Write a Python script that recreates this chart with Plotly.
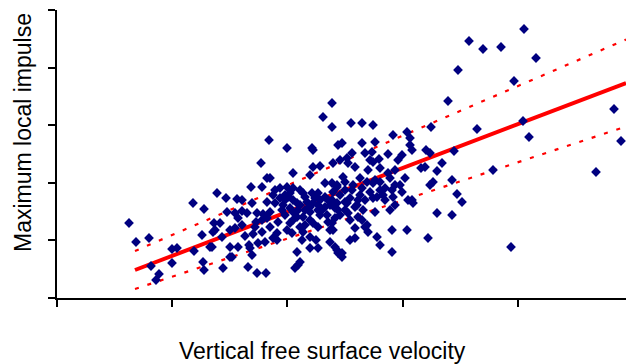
import plotly.graph_objects as go

# Data (arbitrary units)
vel = [0.72,0.79,0.92,0.94,0.99,1.02,1.15,1.20,1.15,1.36,1.47,1.37,1.47,1.53,
       2.04,2.10,1.94,2.05,1.60,1.69,1.80,1.85,2.10,1.95,1.70,1.78,1.85,1.90,2.00,2.06,
       1.81,1.99,1.63,1.57,1.58,1.85,1.78,1.73,2.05,1.96,1.88,1.65,1.45,1.92,2.01,2.08,
       1.81,1.73,1.55,1.73,1.66,1.91,2.09,2.00,1.75,1.93,1.46,1.95,1.56,
       2.56,2.56,2.63,2.36,2.13,2.68,2.75,2.80,2.23,2.30,2.36,2.43,2.46,2.55,2.61,2.68,
       2.16,2.23,2.31,2.36,2.40,2.50,2.56,2.18,2.26,2.33,2.61,2.68,2.73,2.78,2.13,2.36,
       2.40,2.53,2.63,2.70,2.05,2.10,2.36,2.33,2.46,2.53,2.78,2.30,2.35,2.43,2.46,2.56,
       2.61,2.73,2.16,2.53,2.59,2.45,2.73,2.53,2.61,2.81,2.40,2.38,2.41,1.98,2.13,2.20,
       2.85,2.43,3.08,3.11,
       2.94,3.05,3.16,3.36,3.50,3.53,3.53,3.55,2.75,2.85,3.05,3.18,2.95,3.15,3.13,3.08,
       3.22,3.31,3.45,2.91,2.98,2.76,2.86,2.88,3.31,3.33,2.96,2.95,3.03,3.10,3.16,3.23,
       3.43,3.45,3.35,3.36,2.80,2.76,3.16,3.20,3.55,3.28,2.75,2.80,2.88,2.98,2.81,3.06,
       3.18,3.33,2.88,2.91,3.01,3.05,3.10,2.98,2.75,2.76,3.35,3.50,2.98,2.93,3.20,2.78,
       2.80,3.23,3.35,2.85,
       2.75,2.66,2.12,2.30,2.55,2.81,2.53,2.90,2.83,3.16,
       3.74,4.20,4.66,4.72,3.69,3.73,3.97,3.85,3.64,3.68,3.80,4.36,3.95,3.76,3.73,4.00,
       4.05,3.56,3.80,3.95,3.71,4.54,4.67,4.12,4.26,4.44,4.79,4.01,4.57,3.91,5.57,5.64,
       5.39,3.51,
       2.28,2.43,2.48,2.58,2.65,2.71,2.83,2.88,2.93,3.03,3.08,3.13,3.23,3.26,3.38,2.83,
       2.93,2.28,2.21,2.25,3.01,3.05,3.11,3.23,3.38,3.41,3.48,3.38,3.28,
       2.18,2.33,2.48,2.63,2.53,2.41,2.28,2.61,2.71,2.48,2.20,2.90,3.00,3.18]

impulse = [1.50,1.12,1.20,0.64,0.36,0.48,0.98,1.00,0.70,1.90,1.78,0.94,0.56,1.02,
           2.70,2.40,2.22,2.22,2.10,2.00,1.98,1.96,1.92,1.90,1.72,1.70,1.74,1.70,1.70,1.68,
           1.60,1.52,1.50,1.50,1.36,1.46,1.40,1.36,1.32,1.28,1.24,1.22,1.26,1.06,1.10,1.12,
           1.02,1.02,1.02,0.82,0.60,0.62,0.50,0.50,0.82,1.00,0.72,0.86,1.32,
           2.96,2.62,2.64,2.50,2.40,2.30,2.30,2.22,2.20,2.22,2.20,2.16,2.10,2.10,2.10,2.02,
           2.06,2.00,2.02,1.96,1.90,1.92,1.90,1.90,1.86,1.80,1.86,1.82,1.86,1.80,1.72,1.72,
           1.62,1.72,1.66,1.66,1.56,1.60,1.56,1.50,1.62,1.56,1.60,1.36,1.30,1.42,1.32,1.50,
           1.42,1.36,1.20,1.22,1.16,1.16,1.12,1.00,1.00,0.90,0.92,0.60,0.66,1.42,1.42,1.16,
           0.90,0.72,1.42,1.32,
           3.50,3.50,3.46,3.26,3.32,3.20,3.06,2.96,3.42,3.10,3.10,3.12,2.90,2.92,2.76,2.90,
           2.78,2.88,2.86,2.70,2.62,2.70,2.42,2.32,2.50,2.40,2.26,2.16,2.40,2.32,2.30,2.32,
           2.26,2.12,2.16,2.02,2.26,2.12,2.00,2.02,1.96,1.96,1.96,1.90,1.92,1.82,1.76,1.76,
           1.72,1.76,1.76,1.70,1.62,1.56,1.46,1.40,1.50,1.36,1.36,1.36,1.20,1.16,1.22,1.02,
           0.96,1.06,0.92,0.82,
           3.90,3.62,3.16,3.00,3.00,3.06,2.46,2.80,2.76,2.72,
           3.42,3.38,3.54,3.22,2.96,2.90,2.94,2.70,2.60,2.62,2.54,2.56,2.36,2.32,2.26,2.08,
           1.92,1.90,1.70,1.66,1.20,1.02,5.38,5.14,4.98,5.02,4.80,4.56,4.34,3.94,3.78,3.14,
           2.52,1.96,
           2.06,1.86,1.76,2.00,1.76,1.96,2.06,2.16,2.00,2.06,1.96,2.12,2.16,2.06,1.86,1.66,
           1.56,1.66,1.52,1.76,1.96,2.20,2.56,2.60,2.56,2.76,2.40,2.26,2.20,
           2.16,2.10,2.02,1.96,1.82,1.76,1.96,1.76,1.52,1.46,1.30,1.90,1.86,2.36]

fit_x = [0.78, 5.69]
fit_y = [0.56, 4.30]
upper_y = [0.94, 5.17]
lower_y = [0.18, 3.43]

tick_vals = [0, 1.152, 2.304, 3.456, 4.608, 5.76]

fig = go.Figure()
for yy in (upper_y, lower_y):
    fig.add_trace(go.Scatter(x=fit_x, y=yy, mode="lines",
                             line=dict(color="#FF0000", width=2.2, dash="4px,9px"),
                             hoverinfo="skip", showlegend=False))
fig.add_trace(go.Scatter(x=fit_x, y=fit_y, mode="lines",
                         line=dict(color="#FF0000", width=4),
                         hoverinfo="skip", showlegend=False))
fig.add_trace(go.Scatter(x=vel, y=impulse, mode="markers",
                         marker=dict(symbol="diamond", size=7.5, color="#000080",
                                     line=dict(width=0)),
                         showlegend=False))

axis_common = dict(showgrid=False, zeroline=False, showline=True, linecolor="black",
                   linewidth=2, ticks="outside", ticklen=7, tickwidth=2,
                   tickcolor="black", showticklabels=False, tickmode="array",
                   tickvals=tick_vals, automargin=False)

fig.update_layout(
    width=626, height=364,
    margin=dict(l=57, r=0, t=10, b=66),
    paper_bgcolor="white", plot_bgcolor="white",
    xaxis=dict(range=[0, 5.69], **axis_common),
    yaxis=dict(range=[0, 5.76], **axis_common),
    font=dict(family="Liberation Sans, Arial, sans-serif", color="black"),
    annotations=[
        dict(text="Vertical free surface velocity", xref="paper", yref="paper",
             x=(322 - 57) / 569, y=-(351 - 298) / 288, xanchor="center", yanchor="middle",
             showarrow=False, font=dict(size=23)),
        dict(text="Maximum local impulse", xref="paper", yref="paper",
             x=-(57 - 23) / 569, y=(298 - 133) / 288, xanchor="center", yanchor="middle",
             textangle=-90, showarrow=False, font=dict(size=23)),
    ],
)

fig.write_html("out.html", config={"displayModeBar": False},
               post_script="document.body.style.margin='0';")
